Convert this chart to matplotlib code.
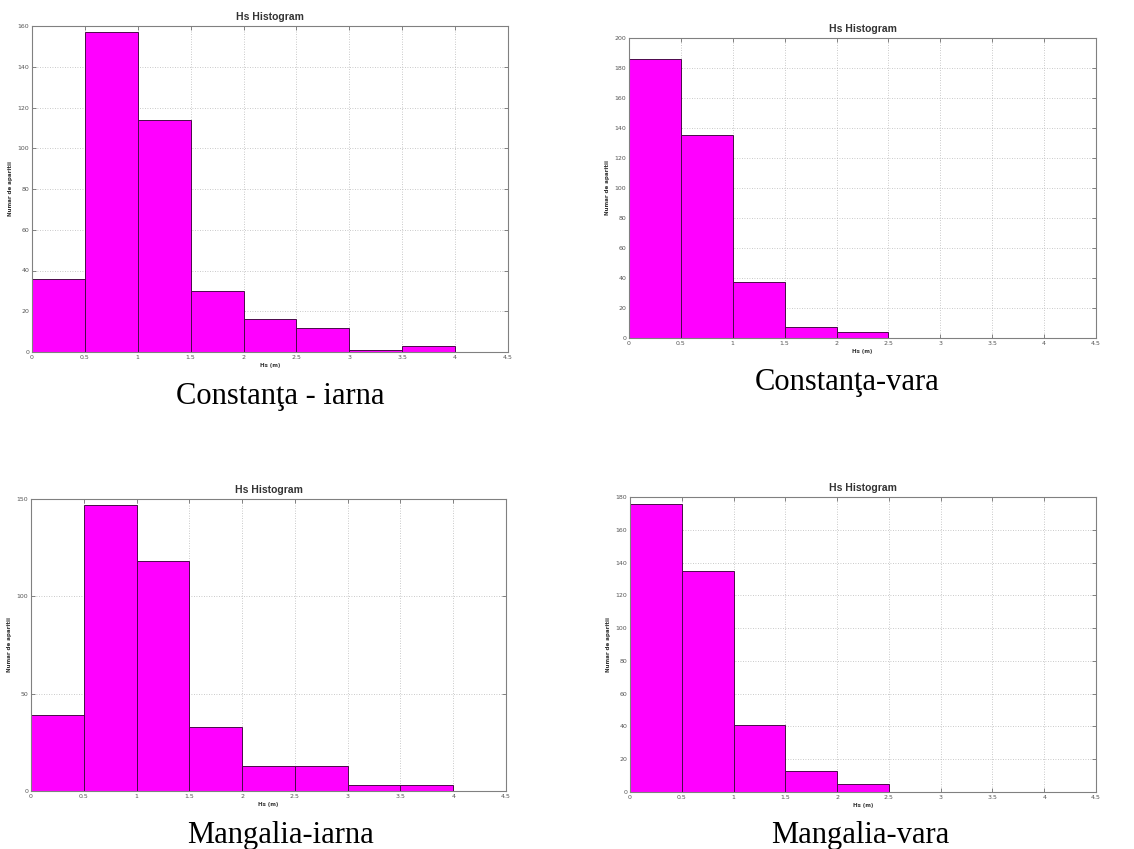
import matplotlib
matplotlib.use("Agg")
import matplotlib.pyplot as plt
from matplotlib.ticker import MultipleLocator

# Bin edges (m) shared by all histograms
bin_width = 0.5
x_ticks = [0, 0.5, 1, 1.5, 2, 2.5, 3, 3.5, 4, 4.5]
x_tick_labels = ["0", "0.5", "1", "1.5", "2", "2.5", "3", "3.5", "4", "4.5"]

# Counts per 0.5 m bin, starting at Hs = 0
constanta_iarna = [36, 157, 114, 30, 16, 12, 1, 3]
constanta_vara = [186, 135, 37, 7, 4]
mangalia_iarna = [39, 147, 118, 33, 13, 13, 3, 3]
mangalia_vara = [176, 135, 41, 13, 5]

captions = ["Constanţa - iarna", "Constanţa-vara", "Mangalia-iarna", "Mangalia-vara"]
y_limits = [160, 200, 150, 180]
y_steps = [20, 20, 50, 20]

W, H = 1134, 849
fig = plt.figure(figsize=(W / 100, H / 100), dpi=100)
fig.patch.set_facecolor("white")

# axes boxes in pixels: left, top, right, bottom
boxes = [(32, 26, 508, 352), (629, 38, 1096, 338),
         (31, 499, 506, 791), (630, 497, 1096, 792)]
# caption centre x and baseline y in pixels
caption_pos = [(280, 404), (847, 390), (280, 843), (860, 843)]

series = [constanta_iarna, constanta_vara, mangalia_iarna, mangalia_vara]

for counts, box, ylim, ystep, cap, cpos in zip(series, boxes, y_limits, y_steps,
                                                captions, caption_pos):
    l, t, r, b = box
    ax = fig.add_axes([l / W, 1 - b / H, (r - l) / W, (b - t) / H])
    lefts = [i * bin_width for i in range(len(counts))]
    ax.bar(lefts, counts, width=bin_width, align="edge", color="#ff00ff",
           edgecolor="#4a0a4a", linewidth=0.7, zorder=2)
    ax.set_xlim(0, 4.5)
    ax.set_ylim(0, ylim)
    ax.set_xticks(x_ticks)
    ax.set_xticklabels(x_tick_labels)
    ax.yaxis.set_major_locator(MultipleLocator(ystep))
    ax.set_axisbelow(True)
    ax.grid(True, linestyle=(0, (1, 2)), color="#b8b8b8", linewidth=0.6)
    ax.tick_params(direction="in", length=3, width=0.6, top=True, right=True,
                   labelsize=4.5, labelcolor="#555555", color="#707070", pad=2)
    for sp in ax.spines.values():
        sp.set_color("#808080")
        sp.set_linewidth(0.8)
    ax.set_title("Hs Histogram", fontsize=7.5, fontweight="bold",
                 family="Liberation Sans", color="#333333", pad=4)
    ax.set_xlabel("Hs (m)", fontsize=4, fontweight="bold", color="#333333",
                  labelpad=2)
    ax.set_ylabel("Numar de aparitii", fontsize=4, fontweight="bold",
                  color="#333333", labelpad=3)
    fig.text(cpos[0] / W, 1 - cpos[1] / H, cap, ha="center", va="baseline",
             family="Liberation Serif", fontsize=22, color="black")

fig.savefig("out.png", dpi=100, facecolor="white")
